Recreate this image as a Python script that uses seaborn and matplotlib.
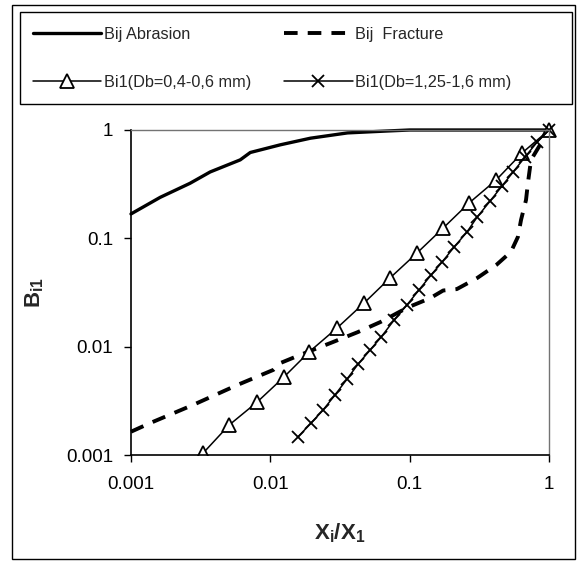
import matplotlib
matplotlib.use('Agg')
import matplotlib.pyplot as plt
import seaborn as sns
from matplotlib.patches import Rectangle
from matplotlib.ticker import NullLocator

# ---- data ----
abr_x = [0.001, 0.00162, 0.00265, 0.0037, 0.00608, 0.00718, 0.0118, 0.0194, 0.0358, 0.05, 0.07, 0.1, 0.3, 1.0]
abr_y = [0.168, 0.239, 0.322, 0.41, 0.53, 0.62, 0.73, 0.84, 0.94, 0.96, 0.98, 1.0, 1.0, 1.0]

frac_x = [0.001, 0.00137, 0.00279, 0.0058, 0.0105, 0.0118, 0.0164, 0.027, 0.0423, 0.0618, 0.0968,
          0.14, 0.174, 0.218, 0.305, 0.42, 0.533, 0.598, 0.63, 0.684, 0.706, 0.743, 1.0]
frac_y = [0.00164, 0.00197, 0.0029, 0.00443, 0.0061, 0.00706, 0.0084, 0.0108, 0.0136, 0.0169, 0.023,
          0.028, 0.033, 0.034, 0.043, 0.057, 0.075, 0.103, 0.148, 0.226, 0.325, 0.53, 1.0]

tri_x = [0.00212, 0.00329, 0.00506, 0.00804, 0.01253, 0.01897, 0.0301, 0.0471, 0.0723, 0.113,
         0.174, 0.267, 0.417, 0.641, 1.0]
tri_y = [0.00058, 0.00104, 0.00189, 0.00308, 0.00525, 0.00893, 0.01486, 0.0253, 0.0431, 0.0733,
         0.1245, 0.212, 0.345, 0.614, 1.0]

crs_x = [0.0158, 0.0196, 0.0239, 0.0291, 0.0356, 0.0427, 0.0520, 0.0624, 0.0773, 0.0957, 0.1167,
         0.1425, 0.171, 0.2086, 0.258, 0.305, 0.378, 0.460, 0.552, 0.673, 0.822, 1.0]
crs_y = [0.00147, 0.00197, 0.0026, 0.00358, 0.00504, 0.00692, 0.00931, 0.01227, 0.0176, 0.0243,
         0.0334, 0.0459, 0.0605, 0.0832, 0.1146, 0.157, 0.221, 0.304, 0.409, 0.563, 0.774, 1.0]

tick_vals = [0.001, 0.01, 0.1, 1]
tick_labels = ['0.001', '0.01', '0.1', '1']

lab_abr = 'Bij Abrasion'
lab_frac = 'Bij  Fracture'
lab_tri = 'Bi1(Db=0,4-0,6 mm)'
lab_crs = 'Bi1(Db=1,25-1,6 mm)'

# ---- style ----
sns.set_style('ticks')
plt.rcParams['font.family'] = ['Liberation Sans', 'DejaVu Sans']
plt.rcParams['mathtext.fontset'] = 'custom'
plt.rcParams['mathtext.rm'] = 'Liberation Sans'
plt.rcParams['mathtext.bf'] = 'Liberation Sans:bold'
plt.rcParams['mathtext.it'] = 'Liberation Sans:italic'

W, H = 577, 562
fig = plt.figure(figsize=(W / 100, H / 100), dpi=100)
ax = fig.add_axes([131 / W, 1 - 455 / H, (549 - 131) / W, (455 - 130) / H])

sns.lineplot(x=abr_x, y=abr_y, ax=ax, color='black', lw=2.4, sort=False, estimator=None, label=lab_abr)
sns.lineplot(x=frac_x, y=frac_y, ax=ax, color='black', lw=2.8, sort=False, estimator=None,
             linestyle=(0, (3.5, 2.6)), label=lab_frac)
sns.lineplot(x=tri_x, y=tri_y, ax=ax, color='black', lw=1.1, sort=False, estimator=None,
             marker='^', markersize=9.5, markerfacecolor='white', markeredgecolor='black',
             markeredgewidth=1.3, label=lab_tri)
sns.lineplot(x=crs_x, y=crs_y, ax=ax, color='black', lw=1.1, sort=False, estimator=None,
             marker='x', markersize=9, markeredgecolor='black', markeredgewidth=1.3, label=lab_crs)

ax.set_xscale('log')
ax.set_yscale('log')
ax.set_xlim(1e-3, 1)
ax.set_ylim(1e-3, 1)

clip = Rectangle((-0.05, 0.0), 1.1, 1.1, transform=ax.transAxes)
for ln in ax.lines:
    ln.set_clip_path(clip)

ax.set_xticks(tick_vals)
ax.set_xticklabels(tick_labels)
ax.set_yticks(tick_vals)
ax.set_yticklabels(tick_labels)
ax.xaxis.set_minor_locator(NullLocator())
ax.yaxis.set_minor_locator(NullLocator())
ax.tick_params(axis='both', which='major', direction='out', length=5, width=1, color='black',
               labelsize=13.5, labelcolor='black')
ax.tick_params(axis='x', pad=10)
ax.tick_params(axis='y', pad=8)

for s in ['left', 'bottom']:
    ax.spines[s].set_color('black')
    ax.spines[s].set_linewidth(1.2)
for s in ['top', 'right']:
    ax.spines[s].set_color('0.45')
    ax.spines[s].set_linewidth(1.0)
    ax.spines[s].set_linestyle((0, (1, 1)))

ax.set_xlabel(r'$\mathbf{X_i/X_1}$', fontsize=16)
ax.set_ylabel(r'$\mathbf{B_{i1}}$', fontsize=16)
ax.xaxis.set_label_coords(0.5, -(533 - 455) / (455 - 130), transform=ax.transAxes)
ax.xaxis.label.set_va('center')
ax.yaxis.set_label_coords(-(131 - 35) / (549 - 131), 0.5, transform=ax.transAxes)
ax.yaxis.label.set_va('center')

handles, labels = ax.get_legend_handles_labels()
if ax.get_legend() is not None:
    ax.get_legend().remove()
order = [0, 2, 1, 3]
fig.legend([handles[i] for i in order], [labels[i] for i in order],
           loc='upper left', bbox_to_anchor=(33 / W, 1 - 27 / H), ncol=2, frameon=False,
           borderpad=0, borderaxespad=0, handlelength=4.2, handletextpad=0.15,
           columnspacing=2.05, labelspacing=2.0, fontsize=11.7)

fig.patches.append(Rectangle((20 / W, 1 - 104 / H), 552 / W, 92 / H, transform=fig.transFigure,
                             fill=False, edgecolor='black', lw=1.0))
fig.patches.append(Rectangle((12 / W, 1 - 559 / H), 563 / W, 554 / H, transform=fig.transFigure,
                             fill=False, edgecolor='black', lw=1.0))

fig.savefig('out.png', dpi=100)
